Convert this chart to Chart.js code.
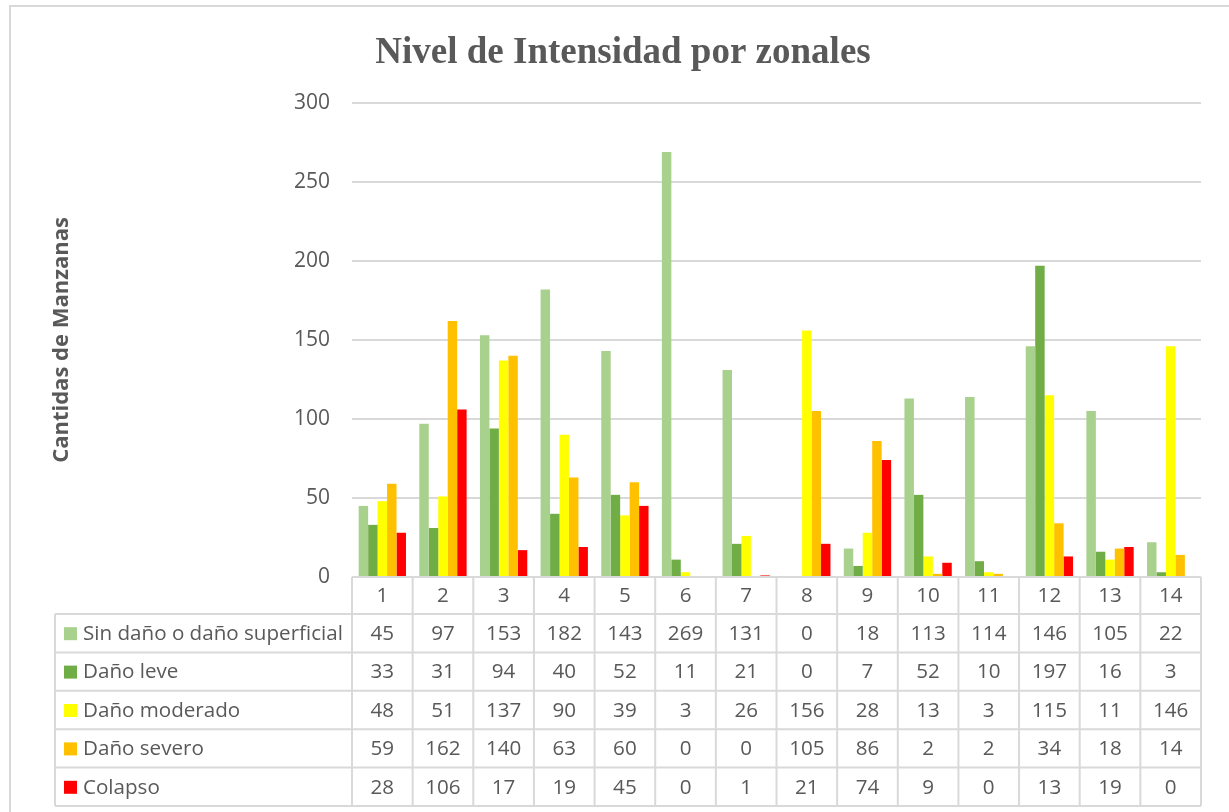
<!DOCTYPE html>
<html><head><meta charset="utf-8">
<script src="https://cdn.jsdelivr.net/npm/chart.js@4"></script>
<style>html,body{margin:0;padding:0;background:#fff;}#wrap{width:1229px;height:812px;position:relative;}</style>
</head><body><div id="wrap"><canvas id="c" width="1229" height="812"></canvas></div>
<script>
const categories = ['1','2','3','4','5','6','7','8','9','10','11','12','13','14'];
const seriesNames = ['Sin daño o daño superficial','Daño leve','Daño moderado','Daño severo','Colapso'];
const sinDano = [45,97,153,182,143,269,131,0,18,113,114,146,105,22];
const danoLeve = [33,31,94,40,52,11,21,0,7,52,10,197,16,3];
const danoModerado = [48,51,137,90,39,3,26,156,28,13,3,115,11,146];
const danoSevero = [59,162,140,63,60,0,0,105,86,2,2,34,18,14];
const colapso = [28,106,17,19,45,0,1,21,74,9,0,13,19,0];
const yTicks = [0,50,100,150,200,250,300];
const seriesColors = ['#A9D18E','#70AD47','#FFFF00','#FFC000','#FF0000'];

const seriesValues = [sinDano, danoLeve, danoModerado, danoSevero, colapso];
const TXT = '#595959';
const GRID = '#D9D9D9';
const FONT = "'Open Sans', sans-serif";

const tablePlugin = {
  id: 'dataTable',
  beforeDraw(chart) {
    const ctx = chart.ctx;
    ctx.save();
    ctx.strokeStyle = GRID; ctx.lineWidth = 2;
    ctx.strokeRect(10, 6, 1400, 1000);
    ctx.restore();
  },
  afterDraw(chart) {
    const ctx = chart.ctx, a = chart.chartArea, x = chart.scales.x;
    const n = categories.length;
    const colW = (x.getPixelForValue(n - 1) - x.getPixelForValue(0)) / (n - 1);
    const headerTop = a.bottom, headerBottom = a.bottom + 37;
    const rowH = 38.4;
    const labelLeft = 55;
    const tableBottom = headerBottom + rowH * seriesNames.length;
    ctx.save();
    ctx.strokeStyle = GRID; ctx.lineWidth = 2;
    ctx.beginPath();
    ctx.moveTo(a.left, headerTop); ctx.lineTo(a.right, headerTop);
    for (let r = 0; r <= seriesNames.length; r++) {
      const y = headerBottom + r * rowH;
      ctx.moveTo(labelLeft, y); ctx.lineTo(a.right, y);
    }
    ctx.moveTo(labelLeft, headerBottom); ctx.lineTo(labelLeft, tableBottom);
    for (let i = 0; i <= n; i++) {
      const bx = x.getPixelForValue(0) - colW / 2 + i * colW;
      ctx.moveTo(bx, headerTop); ctx.lineTo(bx, tableBottom);
    }
    ctx.stroke();
    ctx.fillStyle = TXT;
    ctx.font = "20.6px " + FONT;
    ctx.textAlign = 'center'; ctx.textBaseline = 'middle';
    categories.forEach((c, i) => {
      ctx.fillText(c, x.getPixelForValue(i), (headerTop + headerBottom) / 2 + 1);
    });
    seriesNames.forEach((name, r) => {
      const cy = headerBottom + r * rowH + rowH / 2 + 1;
      ctx.fillStyle = seriesColors[r];
      ctx.fillRect(64, cy - 7, 13, 13);
      ctx.fillStyle = TXT;
      ctx.textAlign = 'left';
      ctx.fillText(name, 83, cy);
      ctx.textAlign = 'center';
      seriesValues[r].forEach((v, i) => {
        ctx.fillText(String(v), x.getPixelForValue(i), cy);
      });
    });
    ctx.restore();
  }
};

new Chart(document.getElementById('c'), {
  type: 'bar',
  data: {
    labels: categories,
    datasets: seriesNames.map((name, i) => ({
      label: name,
      data: seriesValues[i],
      backgroundColor: seriesColors[i],
      borderWidth: 0,
      categoryPercentage: 0.78,
      barPercentage: 1.0
    }))
  },
  options: {
    responsive: false,
    animation: false,
    devicePixelRatio: 1,
    layout: { padding: { left: 45, right: 28, top: 8, bottom: 235 } },
    plugins: {
      legend: { display: false },
      tooltip: { enabled: false },
      title: {
        display: true,
        text: 'Nivel de Intensidad por zonales',
        color: TXT,
        font: { family: "'Liberation Serif', 'Times New Roman', serif", size: 37, weight: 'bold' },
        padding: { top: 23, bottom: 27.6 }
      }
    },
    scales: {
      x: { display: false },
      y: {
        min: 0, max: 300,
        afterBuildTicks: (s) => { s.ticks = yTicks.map(v => ({ value: v })); },
        afterFit: (s) => { s.width = 352 - 45; },
        border: { display: false },
        grid: { color: GRID, lineWidth: 2, drawTicks: false },
        ticks: { color: TXT, font: { family: FONT, size: 21 }, padding: 22 },
        title: {
          display: true,
          text: 'Cantidas de Manzanas',
          color: TXT,
          font: { family: FONT, size: 22, weight: 'bold' },
          padding: { top: 4, bottom: 0 }
        }
      }
    }
  },
  plugins: [tablePlugin]
});
</script></body></html>
